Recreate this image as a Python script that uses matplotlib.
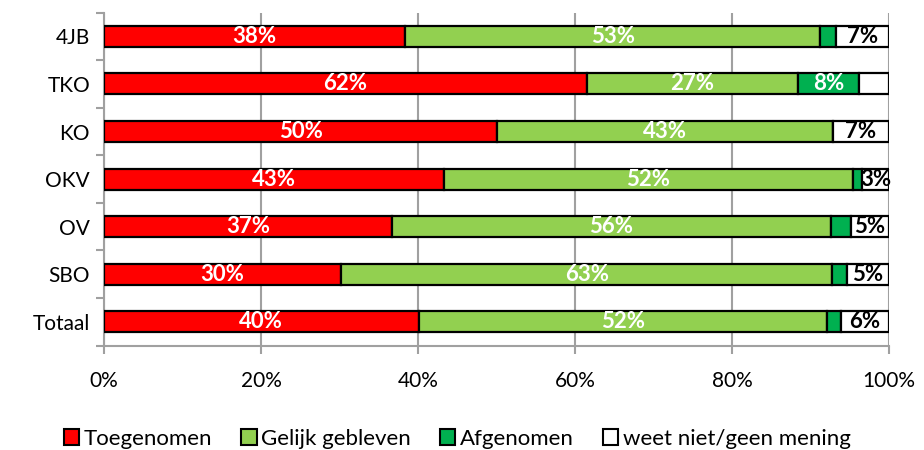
import matplotlib.pyplot as plt
import numpy as np

plt.rcParams['font.family'] = ['Lato', 'DejaVu Sans']

categories = ['4JB', 'TKO', 'KO', 'OKV', 'OV', 'SBO', 'Totaal']
toegenomen = [38.4, 61.5, 50.1, 43.3, 36.7, 30.2, 40.1]
gelijk = [52.8, 26.9, 42.8, 52.1, 55.9, 62.6, 52.0]
afgenomen = [2.1, 7.8, 0.0, 1.2, 2.6, 1.9, 1.8]
weet_niet = [6.7, 3.8, 7.1, 3.4, 4.8, 5.3, 6.1]

series_names = ['Toegenomen', 'Gelijk gebleven', 'Afgenomen', 'weet niet/geen mening']
colors = ['#FF0000', '#92D050', '#00B050', '#FFFFFF']
text_colors = ['white', 'white', 'white', 'black']
# which segments carry a value label (as in the original)
show_label = [
    [True] * 7,
    [True] * 7,
    [False, True, False, False, False, False, False],
    [True, False, True, True, True, True, True],
]

fig, ax = plt.subplots(figsize=(9.24, 4.5), dpi=100)
fig.subplots_adjust(left=0.1125, right=0.962, top=0.972, bottom=0.232)

y = np.arange(len(categories))[::-1]
left = np.zeros(len(categories))
data = [toegenomen, gelijk, afgenomen, weet_niet]
for i, vals in enumerate(data):
    vals = np.array(vals)
    ax.barh(y, vals, left=left, height=0.44, color=colors[i],
            edgecolor='black', linewidth=1.6, label=series_names[i], zorder=3)
    for j, v in enumerate(vals):
        if show_label[i][j]:
            ax.text(left[j] + v / 2, y[j], f'{round(v):.0f}%', ha='center',
                    va='center', color=text_colors[i], fontsize=16,
                    fontweight='bold', zorder=4)
    left += vals

ax.set_xlim(0, 100)
ax.set_ylim(-0.5, len(categories) - 0.5)
ax.set_xticks(np.arange(0, 101, 20))
ax.set_xticklabels([f'{t}%' for t in range(0, 101, 20)])
ax.set_yticks(y)
ax.set_yticklabels(categories)
ax.set_yticks(np.arange(-0.5, len(categories), 1), minor=True)
ax.tick_params(axis='y', which='major', length=0, pad=10, labelsize=15)
ax.tick_params(axis='y', which='minor', length=6, width=1.5, color='#A0A0A0')
ax.tick_params(axis='x', length=6, width=1.5, color='#A0A0A0', labelsize=15, pad=12)

ax.grid(axis='x', color='#A0A0A0', linewidth=1.5, zorder=0)
for s in ['top', 'right']:
    ax.spines[s].set_visible(False)
for s in ['left', 'bottom']:
    ax.spines[s].set_color('#A0A0A0')
    ax.spines[s].set_linewidth(1.5)

leg = ax.legend(loc='upper center', bbox_to_anchor=(0.45, -0.19), ncol=4,
                frameon=False, fontsize=16, handlelength=0.7, handleheight=0.7,
                handletextpad=0.2, columnspacing=1.3)
for h in leg.legend_handles:
    h.set_linewidth(1.5)

fig.savefig('out.png', dpi=100)
